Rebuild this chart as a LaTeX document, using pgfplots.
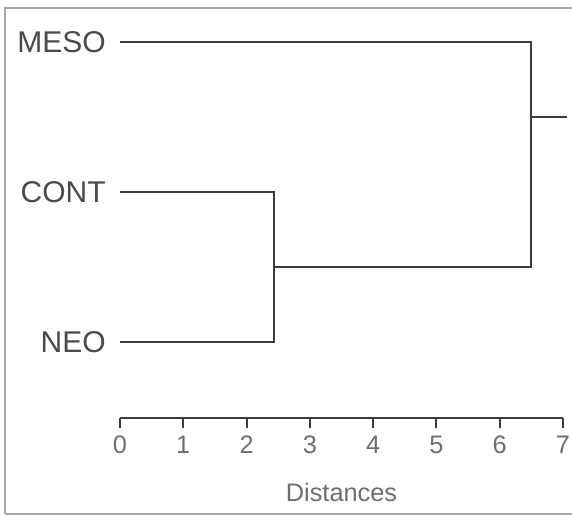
\documentclass[border=0pt]{standalone}
\usepackage{fontspec}
\setmainfont{Liberation Sans}
\usepackage{pgfplots}
\pgfplotsset{compat=1.18}
\definecolor{ln}{HTML}{3C3C3C}
\definecolor{tx}{HTML}{4A4A4A}
\definecolor{fr}{HTML}{A8A8A8}
\begin{document}
\begin{tikzpicture}
\path[use as bounding box] (-90pt,-74.25pt) rectangle (339pt,313.5pt);
\draw[fr, line width=1pt] (-86.25pt,-72pt) -- (-86.25pt,307.5pt) -- (339pt,307.5pt);
\draw[fr, line width=1pt] (-86.25pt,-72pt) -- (339pt,-72pt);
\begin{axis}[
  scale only axis, width=332.25pt, height=307.5pt,
  xmin=0, xmax=7, ymin=-0.507, ymax=2.227,
  clip=false,
  axis x line*=bottom, axis y line*=left,
  y axis line style={draw=none},
  x axis line style={ln, line width=1.5pt},
  xtick={0,1,2,3,4,5,6,7},
  ytick={0,1,2}, yticklabels={NEO,CONT,MESO},
  tick align=outside,
  major tick length=7.5pt,
  xtick style={ln, line width=1.5pt},
  ytick style={draw=none},
  xticklabel style={font=\fontsize{19}{21}\selectfont, text=tx!80, inner sep=0pt, yshift=-5.5pt},
  yticklabel style={font=\fontsize{22.5}{26}\selectfont, text=tx, inner sep=0pt, xshift=-3pt},
  /pgf/number format/assume math mode=true,
  xlabel={Distances},
  xlabel style={font=\fontsize{19}{21}\selectfont, text=tx!80, yshift=-19pt},
]
\addplot[ln, line width=1.5pt] coordinates {(0,2) (6.5,2) (6.5,0.5) (2.43,0.5)};
\addplot[ln, line width=1.5pt] coordinates {(0,1) (2.43,1) (2.43,0) (0,0)};
\addplot[ln, line width=1.5pt] coordinates {(6.5,1.5) (7.06,1.5)};
\end{axis}
\end{tikzpicture}
\end{document}
